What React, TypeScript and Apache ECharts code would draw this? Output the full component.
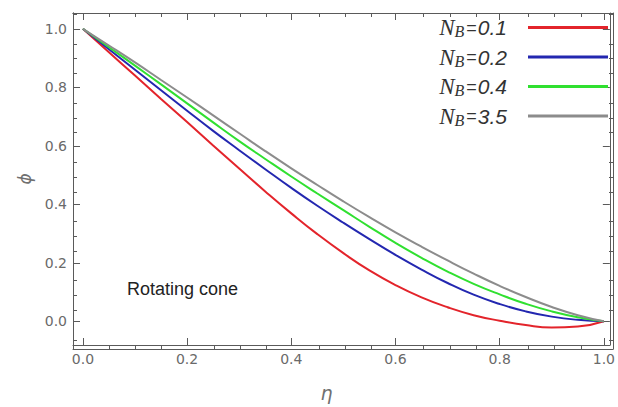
import React, { useEffect, useRef } from "react";
import * as echarts from "echarts";

// eta grid
const eta = [0, 0.05, 0.1, 0.15, 0.2, 0.25, 0.3, 0.35, 0.4, 0.45, 0.5, 0.55, 0.6, 0.65, 0.7, 0.75, 0.8, 0.85, 0.9, 0.95, 1.0];

// phi profiles
const phiNB01 = [1.0, 0.92, 0.84, 0.76, 0.681, 0.601, 0.522, 0.444, 0.369, 0.298, 0.233, 0.174, 0.124, 0.082, 0.048, 0.021, 0.002, -0.013, -0.021, -0.018, 0.0];
const phiNB02 = [1.0, 0.93, 0.86, 0.79, 0.72, 0.651, 0.585, 0.52, 0.456, 0.395, 0.337, 0.281, 0.227, 0.177, 0.131, 0.091, 0.059, 0.034, 0.016, 0.005, 0.0];
const phiNB04 = [1.0, 0.937, 0.874, 0.81, 0.745, 0.68, 0.616, 0.555, 0.495, 0.437, 0.38, 0.323, 0.268, 0.217, 0.17, 0.128, 0.092, 0.06, 0.034, 0.014, 0.0];
const phiNB35 = [1.0, 0.943, 0.885, 0.825, 0.765, 0.704, 0.643, 0.582, 0.523, 0.466, 0.41, 0.356, 0.304, 0.255, 0.208, 0.163, 0.121, 0.083, 0.049, 0.021, 0.0];

const seriesNames = ["NB=0.1", "NB=0.2", "NB=0.4", "NB=3.5"];
const seriesColors = ["#e3242b", "#2327b0", "#30e030", "#8c8c8c"];

const xMajorTicks = [0, 0.2, 0.4, 0.6, 0.8, 1.0];
const xMinorTicks = [0.05, 0.1, 0.15, 0.25, 0.3, 0.35, 0.45, 0.5, 0.55, 0.65, 0.7, 0.75, 0.85, 0.9, 0.95];
const yMajorTicks = [0, 0.2, 0.4, 0.6, 0.8, 1.0];
const yMinorTicks = [-0.05, 0.05, 0.1, 0.15, 0.25, 0.3, 0.35, 0.45, 0.5, 0.55, 0.65, 0.7, 0.75, 0.85, 0.9, 0.95, 1.05];

const xMin = -0.019;
const xMax = 1.0115;
const yMin = -0.081;
const yMax = 1.054;

const annotation = "Rotating cone";

export default function App() {
  const ref = useRef<HTMLDivElement>(null);

  useEffect(() => {
    if (!ref.current) return;
    const chart = echarts.init(ref.current, undefined, { renderer: "svg" });
    const frame = "#5a5a5a";
    const labelColor = "#6a6a6a";
    const gridBox = { left: 73, right: 5, top: 13, bottom: 58 };

    const xAx = (gridIndex: number, position: string, ticks: number[], len: number, labels: boolean, extra: any = {}) => ({
      type: "value",
      gridIndex,
      position,
      min: xMin,
      max: xMax,
      axisLine: { show: true, onZero: false, lineStyle: { color: frame, width: 1 } },
      axisTick: { show: true, inside: true, length: len, customValues: ticks, lineStyle: { color: frame, width: 1 } },
      axisLabel: labels
        ? { show: true, customValues: ticks, formatter: (v: number) => v.toFixed(1), color: labelColor, fontSize: 14, fontFamily: "DejaVu Sans", margin: 7 }
        : { show: false },
      splitLine: { show: false },
      minorTick: { show: false },
      ...extra,
    });
    const yAx = (gridIndex: number, position: string, ticks: number[], len: number, labels: boolean, extra: any = {}) => ({
      type: "value",
      gridIndex,
      position,
      min: yMin,
      max: yMax,
      axisLine: { show: true, onZero: false, lineStyle: { color: frame, width: 1 } },
      axisTick: { show: true, inside: true, length: len, customValues: ticks, lineStyle: { color: frame, width: 1 } },
      axisLabel: labels
        ? { show: true, customValues: ticks, formatter: (v: number) => v.toFixed(1), color: labelColor, fontSize: 14, fontFamily: "DejaVu Sans", margin: 6 }
        : { show: false },
      splitLine: { show: false },
      minorTick: { show: false },
      ...extra,
    });

    const allPhi = [phiNB01, phiNB02, phiNB04, phiNB35];

    chart.setOption({
      animation: false,
      backgroundColor: "#ffffff",
      grid: [
        { ...gridBox, containLabel: false },
        { ...gridBox, containLabel: false },
      ],
      xAxis: [
        xAx(0, "bottom", xMajorTicks, 7, true, {
          name: "η",
          nameLocation: "middle",
          nameGap: 38,
          nameTextStyle: { fontSize: 19, fontStyle: "italic", color: "#707070", fontFamily: "DejaVu Sans", padding: [0, 30, 0, 0] },
        }),
        xAx(0, "top", xMajorTicks, 7, false),
        xAx(1, "bottom", xMinorTicks, 4, false),
        xAx(1, "top", xMinorTicks, 4, false),
      ],
      yAxis: [
        yAx(0, "left", yMajorTicks, 7, true, {
          name: "ϕ",
          nameLocation: "middle",
          nameGap: 40,
          nameRotate: 90,
          nameTextStyle: { fontSize: 17, fontStyle: "italic", color: "#707070", fontFamily: "DejaVu Sans" },
        }),
        yAx(0, "right", yMajorTicks, 7, false),
        yAx(1, "left", yMinorTicks, 4, false),
        yAx(1, "right", yMinorTicks, 4, false),
      ],
      legend: {
        orient: "vertical",
        right: 10,
        top: 16,
        padding: 0,
        align: "right",
        itemWidth: 80,
        itemHeight: 3,
        itemGap: 6,
        icon: "rect",
        selectedMode: false,
        data: seriesNames.map((n, i) => ({ name: n, itemStyle: { color: seriesColors[i] } })),
        formatter: (name: string) => {
          const v = name.split("=")[1];
          return `{n|N}{b|B}{e|=}{v|${v}}{s|}`;
        },
        textStyle: {
          rich: {
            n: { fontFamily: "Liberation Serif", fontStyle: "italic", fontSize: 23, color: "#333333", lineHeight: 24 },
            b: { fontFamily: "Liberation Serif", fontStyle: "italic", fontSize: 16, color: "#333333", lineHeight: 13, verticalAlign: "bottom", padding: [0, 2, 0, 0] },
            e: { fontFamily: "Liberation Sans", fontSize: 18, color: "#333333", lineHeight: 24, padding: [0, 1, 0, 0] },
            v: { fontFamily: "Liberation Sans", fontStyle: "italic", fontSize: 21, color: "#333333", lineHeight: 24 },
            s: { width: 16, lineHeight: 24 },
          },
        },
      },
      graphic: [
        {
          type: "text",
          left: 127,
          top: 280,
          style: { text: annotation, fontFamily: "Liberation Sans", fontSize: 18, fill: "#222222" },
        },
      ],
      series: allPhi.map((arr, i) => ({
        type: "line",
        name: seriesNames[i],
        xAxisIndex: 0,
        yAxisIndex: 0,
        data: eta.map((x, k) => [x, arr[k]]),
        showSymbol: false,
        symbol: "none",
        smooth: 0.5,
        lineStyle: { color: seriesColors[i], width: 2 },
        itemStyle: { color: seriesColors[i] },
      })),
    });

    return () => chart.dispose();
  }, []);

  return <div ref={ref} style={{ position: "absolute", left: 0, top: 0, width: 618, height: 407 }} />;
}
